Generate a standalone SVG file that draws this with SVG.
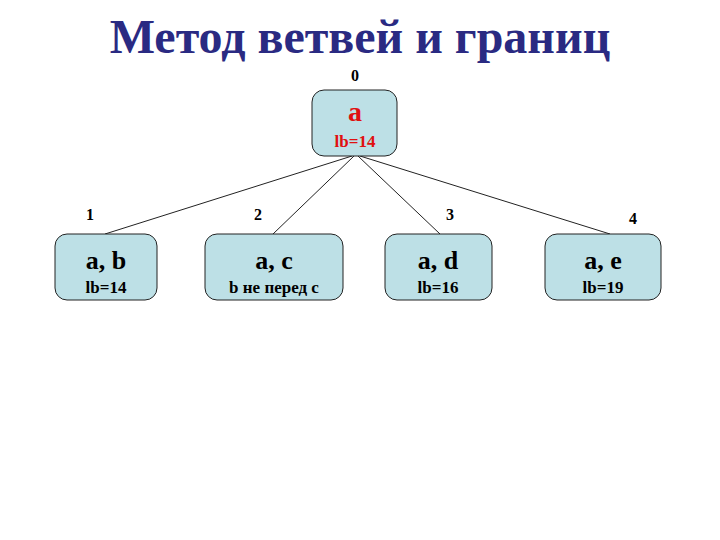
<svg xmlns="http://www.w3.org/2000/svg" width="720" height="540" viewBox="0 0 720 540">
<style>
.n{fill:#bde0e6;stroke:#222;stroke-width:1}
.t{font-family:"Liberation Serif",serif;font-weight:bold;text-anchor:middle;fill:#000}
.e{stroke:#222;stroke-width:1;fill:none}
</style>
<rect width="720" height="540" fill="#fff"/>
<text x="360" y="53" class="t" font-size="48" style="fill:#2a2a82">Метод ветвей и границ</text>
<g id="edges">
<line class="e" x1="352" y1="156" x2="105" y2="234"/>
<line class="e" x1="354" y1="156" x2="273" y2="234"/>
<line class="e" x1="358" y1="156" x2="440" y2="234"/>
<line class="e" x1="360" y1="156" x2="610" y2="234"/>
</g>
<g id="n0">
<text x="355" y="81" class="t" font-size="16">0</text>
<rect class="n" x="312" y="90" width="85" height="66" rx="12"/>
<text x="355" y="121" class="t" font-size="28" style="fill:#e01010">a</text>
<text x="355" y="147" class="t" font-size="17" style="fill:#e01010">lb=14</text>
</g>
<g id="n1">
<text x="90" y="220" class="t" font-size="16">1</text>
<rect class="n" x="55" y="234" width="102" height="66" rx="12"/>
<text x="106" y="269" class="t" font-size="26">a, b</text>
<text x="106" y="293" class="t" font-size="17">lb=14</text>
</g>
<g id="n2">
<text x="258" y="220" class="t" font-size="16">2</text>
<rect class="n" x="205" y="234" width="138" height="66" rx="12"/>
<text x="274" y="269" class="t" font-size="26">a, c</text>
<text x="274" y="293" class="t" font-size="17">b не перед c</text>
</g>
<g id="n3">
<text x="450" y="220" class="t" font-size="16">3</text>
<rect class="n" x="385" y="234" width="107" height="66" rx="12"/>
<text x="438" y="269" class="t" font-size="26">a, d</text>
<text x="438" y="293" class="t" font-size="17">lb=16</text>
</g>
<g id="n4">
<text x="633" y="224" class="t" font-size="16">4</text>
<rect class="n" x="545" y="234" width="116" height="66" rx="12"/>
<text x="603" y="269" class="t" font-size="26">a, e</text>
<text x="603" y="293" class="t" font-size="17">lb=19</text>
</g>
</svg>
